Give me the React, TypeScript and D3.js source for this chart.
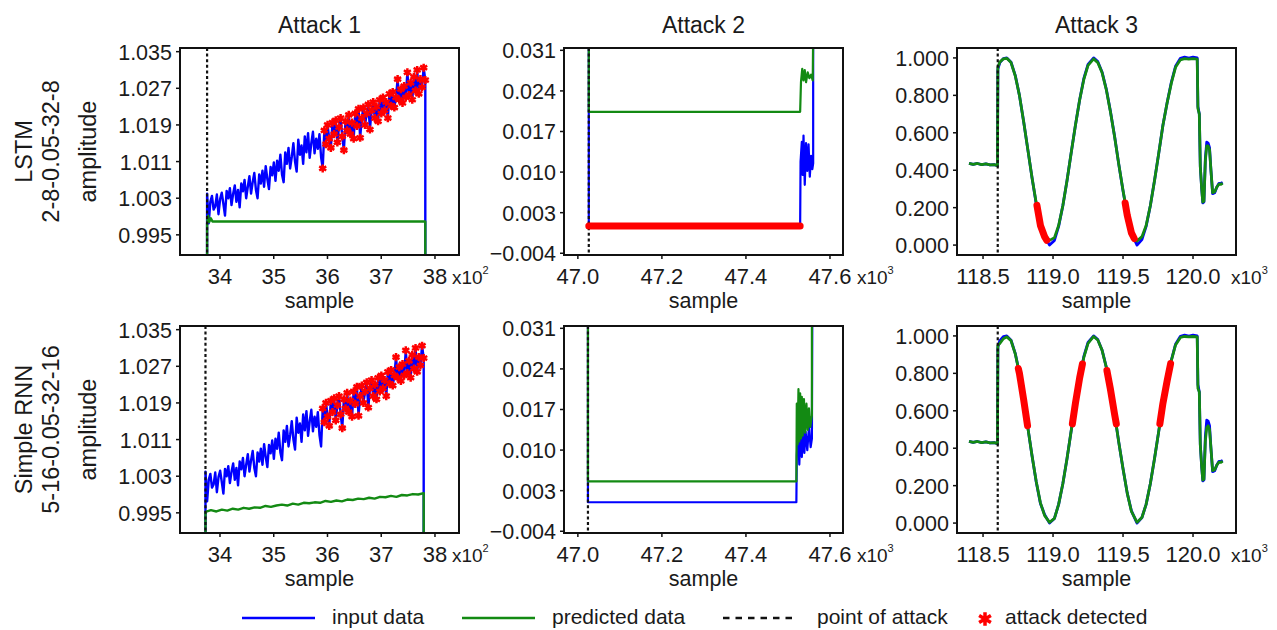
import React, { useEffect, useRef } from "react";
import * as d3 from "d3";

// ---------- data ----------
// Attack 1, x in units of 10^2 samples
const a1StartLstm = 33.76;
const a1EndLstm = 37.82;
const a1StartRnn = 33.73;
const a1EndRnn = 37.79;
const a1Low = 0.985; // signal drops below the plotted window before / after the attack
const a1DetectFrom = 35.9;
const a1Input = [
  1.004, 0.9975, 1.0022, 1.0035, 1.0005, 1.0012, 1.0038, 0.9995, 1.0028,
  1.0042, 1.0018, 0.9992, 1.0046, 1.003, 1.0052, 1.0015, 1.004, 1.0058, 1.0022,
  1.0048, 1.001, 1.0062, 1.0045, 1.007, 1.003, 1.0055,
  1.0078, 1.004, 1.0065, 1.0085, 1.0048, 1.003, 1.0082, 1.0062, 1.009, 1.0055,
  1.01, 1.0072, 1.005, 1.0098, 1.008, 1.0108,
  1.0068, 1.0112, 1.009, 1.0125, 1.0082, 1.0065, 1.013, 1.0105, 1.014, 1.0095,
  1.012, 1.015, 1.011, 1.0088, 1.0158, 1.0125, 1.0145,
  1.0105, 1.0165, 1.013, 1.0172, 1.0118, 1.015, 1.0175, 1.0128, 1.016, 1.0138,
  1.017, 1.012, 1.0095,
  1.0178, 1.0148, 1.019, 1.016, 1.014, 1.0195, 1.017, 1.02, 1.0152, 1.0185,
  1.0205, 1.0165, 1.0135, 1.0198, 1.0178, 1.0212, 1.017, 1.0195, 1.016, 1.0215,
  1.0188, 1.0225, 1.0162, 1.0205, 1.0228, 1.019, 1.0215, 1.0235, 1.018, 1.0222,
  1.024, 1.0205, 1.023, 1.0198, 1.0245, 1.0215,
  1.025, 1.0222, 1.024, 1.0205, 1.0258, 1.0232, 1.0262, 1.0228, 1.025, 1.029,
  1.0245, 1.0268, 1.0238, 1.0275, 1.025, 1.0305, 1.0255,
  1.0282, 1.0245, 1.0295, 1.0265, 1.031, 1.0258, 1.029, 1.0272, 1.0315, 1.0288,
];
const a1PredLstm: [number, number][] = [
  [33.76, 0.985], [33.76, 0.9975], [33.78, 0.9992], [33.8, 0.9978], [33.83, 0.9986],
  [33.86, 0.9979], [37.82, 0.9979], [37.82, 0.985],
];
const a1PredRnn = [
  0.9952, 0.9956, 0.9953, 0.9957, 0.9955, 0.9959, 0.9957, 0.9961, 0.9959, 0.9962,
  0.9961, 0.9965, 0.9963, 0.9966, 0.9968, 0.9966, 0.997, 0.9968, 0.9972, 0.9971,
  0.9973, 0.9972, 0.9976, 0.9974, 0.9977, 0.9975, 0.9979, 0.9978, 0.9981, 0.998,
  0.9983, 0.9981, 0.9985, 0.9984, 0.9987, 0.9985, 0.9989, 0.9988, 0.9991, 0.999,
  0.9993,
];

// Attack 2, x in units of 10^3 samples
const a2InputLstm: [number, number][] = [
  [47.026, 0.034], [47.026, 0.0007], [47.529, 0.0007], [47.53, 0.0118], [47.533, 0.0152],
  [47.535, 0.0095], [47.537, 0.0163], [47.54, 0.0078], [47.543, 0.015], [47.546, 0.0102],
  [47.549, 0.0148], [47.552, 0.0092], [47.555, 0.0128], [47.558, 0.0105], [47.56, 0.0115],
  [47.56, 0.034],
];
const a2PredLstm: [number, number][] = [
  [47.026, 0.034], [47.026, 0.0204], [47.529, 0.0204], [47.531, 0.0255], [47.534, 0.0278],
  [47.537, 0.0258], [47.54, 0.0276], [47.543, 0.0255], [47.547, 0.0272], [47.551, 0.0262],
  [47.555, 0.0268], [47.559, 0.0258], [47.56, 0.034],
];
const a2DetectLstm: [number, number][] = [[47.026, 0.0007], [47.529, 0.0007]];
const a2InputRnn: [number, number][] = [
  [47.024, 0.034], [47.024, 0.001], [47.52, 0.001], [47.521, 0.009], [47.524, 0.0135],
  [47.527, 0.0075], [47.53, 0.014], [47.533, 0.0088], [47.536, 0.0138], [47.539, 0.0095],
  [47.542, 0.0132], [47.546, 0.01], [47.55, 0.014], [47.554, 0.0105], [47.557, 0.012],
  [47.558, 0.034],
];
const a2PredRnn: [number, number][] = [
  [47.024, 0.034], [47.024, 0.0046], [47.52, 0.0046], [47.521, 0.018], [47.523, 0.011],
  [47.525, 0.0205], [47.527, 0.0115], [47.529, 0.0198], [47.531, 0.012], [47.533, 0.0192],
  [47.535, 0.0125], [47.538, 0.0188], [47.541, 0.013], [47.544, 0.018], [47.547, 0.0135],
  [47.55, 0.0172], [47.553, 0.014], [47.557, 0.016], [47.557, 0.034],
];

// Attack 3, x in units of 10^3 samples
const a3Input: [number, number][] = [
  [118.4, 0.437], [118.43, 0.431], [118.46, 0.436], [118.49, 0.43], [118.52, 0.434],
  [118.55, 0.428], [118.58, 0.43], [118.603, 0.425], [118.606, 0.94], [118.62, 0.975],
  [118.645, 0.996], [118.67, 1.0], [118.7, 0.977], [118.73, 0.907], [118.76, 0.8],
  [118.79, 0.66], [118.82, 0.51], [118.85, 0.36], [118.88, 0.22], [118.91, 0.105],
  [118.94, 0.045], [118.975, 0.0], [119.01, 0.025], [119.04, 0.1], [119.07, 0.21],
  [119.1, 0.345], [119.13, 0.495], [119.16, 0.64], [119.19, 0.775], [119.22, 0.89],
  [119.25, 0.965], [119.29, 1.0], [119.32, 0.98], [119.35, 0.925], [119.38, 0.835],
  [119.41, 0.715], [119.44, 0.58], [119.47, 0.43], [119.5, 0.29], [119.53, 0.16],
  [119.56, 0.065], [119.6, 0.0], [119.635, 0.03], [119.665, 0.1], [119.695, 0.21],
  [119.725, 0.345], [119.755, 0.49], [119.785, 0.64], [119.815, 0.76], [119.845, 0.87],
  [119.875, 0.955], [119.91, 0.998], [119.94, 1.004], [119.97, 0.999], [120.0, 1.004],
  [120.03, 1.0], [120.035, 0.74], [120.045, 0.7], [120.052, 0.42], [120.062, 0.3],
  [120.07, 0.225], [120.078, 0.23], [120.088, 0.46], [120.098, 0.55], [120.108, 0.545],
  [120.118, 0.52], [120.128, 0.4], [120.14, 0.275], [120.155, 0.28], [120.17, 0.31],
  [120.185, 0.33], [120.2, 0.33], [120.212, 0.335],
];
const a3PredLstm: [number, number][] = [
  [118.4, 0.437], [118.43, 0.431], [118.46, 0.436], [118.49, 0.43], [118.52, 0.434],
  [118.55, 0.428], [118.58, 0.43], [118.603, 0.425], [118.606, 0.95], [118.62, 0.978],
  [118.645, 0.995], [118.67, 0.998], [118.7, 0.975], [118.73, 0.905], [118.76, 0.8],
  [118.79, 0.66], [118.82, 0.51], [118.85, 0.36], [118.88, 0.225], [118.91, 0.115],
  [118.94, 0.055], [118.975, 0.025], [119.01, 0.04], [119.04, 0.105], [119.07, 0.21],
  [119.1, 0.345], [119.13, 0.495], [119.16, 0.64], [119.19, 0.775], [119.22, 0.885],
  [119.25, 0.96], [119.29, 0.995], [119.32, 0.975], [119.35, 0.922], [119.38, 0.832],
  [119.41, 0.712], [119.44, 0.578], [119.47, 0.43], [119.5, 0.292], [119.53, 0.165],
  [119.56, 0.075], [119.6, 0.022], [119.635, 0.045], [119.665, 0.105], [119.695, 0.21],
  [119.725, 0.345], [119.755, 0.49], [119.785, 0.64], [119.815, 0.76], [119.845, 0.865],
  [119.875, 0.95], [119.91, 0.99], [119.94, 0.996], [119.97, 0.994], [120.0, 0.996],
  [120.03, 0.994], [120.035, 0.73], [120.045, 0.7], [120.052, 0.42], [120.062, 0.3],
  [120.07, 0.23], [120.078, 0.235], [120.088, 0.45], [120.098, 0.53], [120.108, 0.53],
  [120.118, 0.51], [120.128, 0.4], [120.14, 0.28], [120.155, 0.285], [120.17, 0.31],
  [120.185, 0.325], [120.2, 0.325], [120.212, 0.33],
];
const a3PredRnn: [number, number][] = [
  [118.4, 0.437], [118.43, 0.431], [118.46, 0.436], [118.49, 0.43], [118.52, 0.434],
  [118.55, 0.428], [118.58, 0.43], [118.603, 0.425], [118.606, 0.95], [118.62, 0.96],
  [118.645, 0.985], [118.67, 0.995], [118.7, 0.975], [118.73, 0.905], [118.76, 0.8],
  [118.79, 0.66], [118.82, 0.51], [118.85, 0.36], [118.88, 0.222], [118.91, 0.108],
  [118.94, 0.04], [118.975, 0.004], [119.01, 0.025], [119.04, 0.1], [119.07, 0.21],
  [119.1, 0.345], [119.13, 0.495], [119.16, 0.64], [119.19, 0.775], [119.22, 0.885],
  [119.25, 0.96], [119.29, 0.997], [119.32, 0.978], [119.35, 0.924], [119.38, 0.834],
  [119.41, 0.714], [119.44, 0.58], [119.47, 0.43], [119.5, 0.29], [119.53, 0.16],
  [119.56, 0.062], [119.6, 0.004], [119.635, 0.03], [119.665, 0.1], [119.695, 0.21],
  [119.725, 0.345], [119.755, 0.49], [119.785, 0.64], [119.815, 0.76], [119.845, 0.868],
  [119.875, 0.952], [119.91, 0.992], [119.94, 0.997], [119.97, 0.995], [120.0, 0.997],
  [120.03, 0.995], [120.035, 0.72], [120.045, 0.7], [120.052, 0.42], [120.062, 0.3],
  [120.07, 0.23], [120.078, 0.235], [120.088, 0.44], [120.098, 0.51], [120.108, 0.52],
  [120.118, 0.5], [120.128, 0.4], [120.14, 0.28], [120.155, 0.285], [120.17, 0.31],
  [120.185, 0.325], [120.2, 0.325], [120.212, 0.33],
];
const a3DetectLstm: [number, number][][] = [
  [[118.885, 0.212], [118.91, 0.105], [118.94, 0.045], [118.955, 0.026]],
  [[119.515, 0.225], [119.53, 0.16], [119.56, 0.065], [119.58, 0.035]],
];
const a3DetectRnn: [number, number][][] = [
  [[118.752, 0.826], [118.76, 0.8], [118.79, 0.66], [118.818, 0.52]],
  [[119.138, 0.53], [119.16, 0.64], [119.19, 0.775], [119.21, 0.85]],
  [[119.385, 0.815], [119.41, 0.715], [119.44, 0.58], [119.452, 0.53]],
  [[119.763, 0.53], [119.785, 0.64], [119.815, 0.76], [119.84, 0.852]],
];

const attackLstm = [33.76, 47.026, 118.605];
const attackRnn = [33.73, 47.024, 118.605];

const titles = ["Attack 1", "Attack 2", "Attack 3"];
const modelNames = ["LSTM", "Simple RNN"];
const modelParams = ["2-8-0.05-32-8", "5-16-0.05-32-16"];

const xDomains = [[33.256, 38.447], [46.967, 47.631], [118.314, 120.307]];
const xTicks = [[34, 35, 36, 37, 38], [47.0, 47.2, 47.4, 47.6], [118.5, 119.0, 119.5, 120.0]];
const xFormats = [d3.format("d"), d3.format(".1f"), d3.format(".1f")];
const xExponents = ["2", "3", "3"];
const yDomains = [[0.9906, 1.0358], [-0.0043, 0.0314], [-0.053, 1.053]];
const yTicks = [
  [0.995, 1.003, 1.011, 1.019, 1.027, 1.035],
  [-0.004, 0.003, 0.01, 0.017, 0.024, 0.031],
  [0, 0.2, 0.4, 0.6, 0.8, 1.0],
];

const legendLabels = ["input data", "predicted data", "point of attack", "attack detected"];

// ---------- layout ----------
const W = 1277;
const H = 630;
const colLeft = [180, 564, 957];
const rowTop = [48, 326];
const plotW = 279;
const plotH = 207;
const font = "'Liberation Sans', Arial, Helvetica, sans-serif";
const BLUE = "#0000ff";
const GREEN = "#138a13";
const RED = "#ff0000";
const INK = "#1a1a1a";
const lineWidths = [2.4, 2.2, 2.8];
const expOffset = [17, 27, 38];

const spread = (vals: number[], start: number, end: number): [number, number][] =>
  vals.map((v, i) => [start + ((end - start) * i) / (vals.length - 1), v]);

const App = () => {
  const svgRef = useRef<SVGSVGElement>(null);

  useEffect(() => {
    const svg = d3.select(svgRef.current);
    svg.selectAll("*").remove();
    const defs = svg.append("defs");

    const a1InLstm = spread(a1Input, a1StartLstm, a1EndLstm);
    const a1InRnn = spread(a1Input, a1StartRnn, a1EndRnn);

    const panels = [
      [
        {
          input: [[a1StartLstm, a1Low], ...a1InLstm, [a1EndLstm, a1Low]],
          pred: a1PredLstm,
          stars: a1InLstm.filter((d) => d[0] >= a1DetectFrom),
          bands: [] as [number, number][][],
        },
        { input: a2InputLstm, pred: a2PredLstm, stars: [], bands: [a2DetectLstm] },
        { input: a3Input, pred: a3PredLstm, stars: [], bands: a3DetectLstm },
      ],
      [
        {
          input: [[a1StartRnn, a1Low], ...a1InRnn, [a1EndRnn, a1Low]],
          pred: [[a1StartRnn, a1Low], ...spread(a1PredRnn, a1StartRnn, a1EndRnn), [a1EndRnn, a1Low]],
          stars: a1InRnn.filter((d) => d[0] >= a1DetectFrom),
          bands: [] as [number, number][][],
        },
        { input: a2InputRnn, pred: a2PredRnn, stars: [], bands: [] },
        { input: a3Input, pred: a3PredRnn, stars: [], bands: a3DetectRnn },
      ],
    ];
    const attacks = [attackLstm, attackRnn];

    const star = d3.symbol().type(d3.symbolAsterisk).size(46);

    panels.forEach((row, r) => {
      row.forEach((p: any, c) => {
        const x0 = colLeft[c];
        const y0 = rowTop[r];
        const xScale = d3.scaleLinear().domain(xDomains[c]).range([x0, x0 + plotW]);
        const yScale = d3.scaleLinear().domain(yDomains[c]).range([y0 + plotH, y0]);
        const line = d3
          .line<[number, number]>()
          .x((d) => xScale(d[0]))
          .y((d) => yScale(d[1]));

        const clipId = `clip-${r}-${c}`;
        defs
          .append("clipPath")
          .attr("id", clipId)
          .append("rect")
          .attr("x", x0)
          .attr("y", y0)
          .attr("width", plotW)
          .attr("height", plotH);

        const plot = svg.append("g").attr("clip-path", `url(#${clipId})`);

        plot
          .append("path")
          .datum(p.input)
          .attr("d", line)
          .attr("fill", "none")
          .attr("stroke", BLUE)
          .attr("stroke-width", lineWidths[c])
          .attr("stroke-linejoin", "round");

        plot
          .append("path")
          .datum(p.pred)
          .attr("d", line)
          .attr("fill", "none")
          .attr("stroke", GREEN)
          .attr("stroke-width", lineWidths[c])
          .attr("stroke-linejoin", "round");

        plot
          .append("line")
          .attr("x1", xScale(attacks[r][c]))
          .attr("x2", xScale(attacks[r][c]))
          .attr("y1", y0)
          .attr("y2", y0 + plotH)
          .attr("stroke", "#111")
          .attr("stroke-width", 2.2)
          .attr("stroke-dasharray", "3,2.6");

        p.bands.forEach((b: [number, number][]) => {
          plot
            .append("path")
            .datum(b)
            .attr("d", line)
            .attr("fill", "none")
            .attr("stroke", RED)
            .attr("stroke-width", 7)
            .attr("stroke-linecap", "round")
            .attr("stroke-linejoin", "round");
        });

        plot
          .selectAll(".star")
          .data(p.stars)
          .join("path")
          .attr("class", "star")
          .attr("transform", (d: any) => `translate(${xScale(d[0])},${yScale(d[1])})`)
          .attr("d", star as any)
          .attr("fill", "none")
          .attr("stroke", RED)
          .attr("stroke-width", 2.5);

        // frame
        svg
          .append("rect")
          .attr("x", x0)
          .attr("y", y0)
          .attr("width", plotW)
          .attr("height", plotH)
          .attr("fill", "none")
          .attr("stroke", "#111")
          .attr("stroke-width", 2);

        // y ticks
        yTicks[c].forEach((t) => {
          const y = yScale(t);
          svg
            .append("line")
            .attr("x1", x0 - 4)
            .attr("x2", x0)
            .attr("y1", y)
            .attr("y2", y)
            .attr("stroke", "#111")
            .attr("stroke-width", 1.5);
          svg
            .append("text")
            .attr("x", x0 - 8)
            .attr("y", y + 8)
            .attr("text-anchor", "end")
            .attr("fill", INK)
            .style("font-family", font)
            .style("font-size", "21.5px")
            .text(d3.format(".3f")(t));
        });

        // x ticks
        xTicks[c].forEach((t) => {
          const x = xScale(t);
          svg
            .append("line")
            .attr("x1", x)
            .attr("x2", x)
            .attr("y1", y0 + plotH)
            .attr("y2", y0 + plotH + 4)
            .attr("stroke", "#111")
            .attr("stroke-width", 1.5);
          svg
            .append("text")
            .attr("x", x)
            .attr("y", y0 + plotH + 29)
            .attr("text-anchor", "middle")
            .attr("fill", INK)
            .style("font-family", font)
            .style("font-size", "22px")
            .text(xFormats[c](t));
        });

        // multiplier
        const lastTick = xTicks[c][xTicks[c].length - 1];
        const mult = svg
          .append("text")
          .attr("x", xScale(lastTick) + expOffset[c])
          .attr("y", y0 + plotH + 29)
          .attr("fill", INK)
          .style("font-family", font)
          .style("font-size", "19px");
        mult.append("tspan").text("x10");
        mult.append("tspan").attr("dy", -10).style("font-size", "11px").text(xExponents[c]);

        svg
          .append("text")
          .attr("x", x0 + plotW / 2)
          .attr("y", y0 + plotH + 53)
          .attr("text-anchor", "middle")
          .attr("fill", INK)
          .style("font-family", font)
          .style("font-size", "21.5px")
          .text("sample");

        if (r === 0) {
          svg
            .append("text")
            .attr("x", x0 + plotW / 2)
            .attr("y", y0 - 15)
            .attr("text-anchor", "middle")
            .attr("fill", INK)
            .style("font-family", font)
            .style("font-size", "23px")
            .text(titles[c]);
        }
      });

      // row labels
      const cy = rowTop[r] + plotH / 2;
      [
        { x: 32, text: modelNames[r] },
        { x: 59, text: modelParams[r] },
        { x: 96, text: "amplitude" },
      ].forEach((l) => {
        svg
          .append("text")
          .attr("transform", `translate(${l.x},${cy}) rotate(-90)`)
          .attr("text-anchor", "middle")
          .attr("fill", INK)
          .style("font-family", font)
          .style("font-size", "23.5px")
          .text(l.text);
      });
    });

    // legend
    const ly = 618;
    const legendLines = [
      { x1: 242, x2: 315, color: BLUE, dash: null, tx: 332 },
      { x1: 462, x2: 535, color: GREEN, dash: null, tx: 552 },
      { x1: 723, x2: 798, color: "#111", dash: "6.5,6", tx: 817 },
    ];
    legendLines.forEach((l, i) => {
      svg
        .append("line")
        .attr("x1", l.x1)
        .attr("x2", l.x2)
        .attr("y1", ly)
        .attr("y2", ly)
        .attr("stroke", l.color)
        .attr("stroke-width", 2.5)
        .attr("stroke-dasharray", l.dash);
      svg
        .append("text")
        .attr("x", l.tx)
        .attr("y", ly + 6)
        .attr("fill", INK)
        .style("font-family", font)
        .style("font-size", "21px")
        .text(legendLabels[i]);
    });
    svg
      .append("path")
      .attr("transform", `translate(985,${ly + 1})`)
      .attr("d", d3.symbol().type(d3.symbolAsterisk).size(130)() as string)
      .attr("fill", "none")
      .attr("stroke", RED)
      .attr("stroke-width", 3.5);
    svg
      .append("text")
      .attr("x", 1005)
      .attr("y", ly + 6)
      .attr("fill", INK)
      .style("font-family", font)
      .style("font-size", "21px")
      .text(legendLabels[3]);
  }, []);

  return (
    <svg
      ref={svgRef}
      width={W}
      height={H}
      style={{ position: "absolute", left: 0, top: 0, background: "#fff" }}
    />
  );
};

export default App;
